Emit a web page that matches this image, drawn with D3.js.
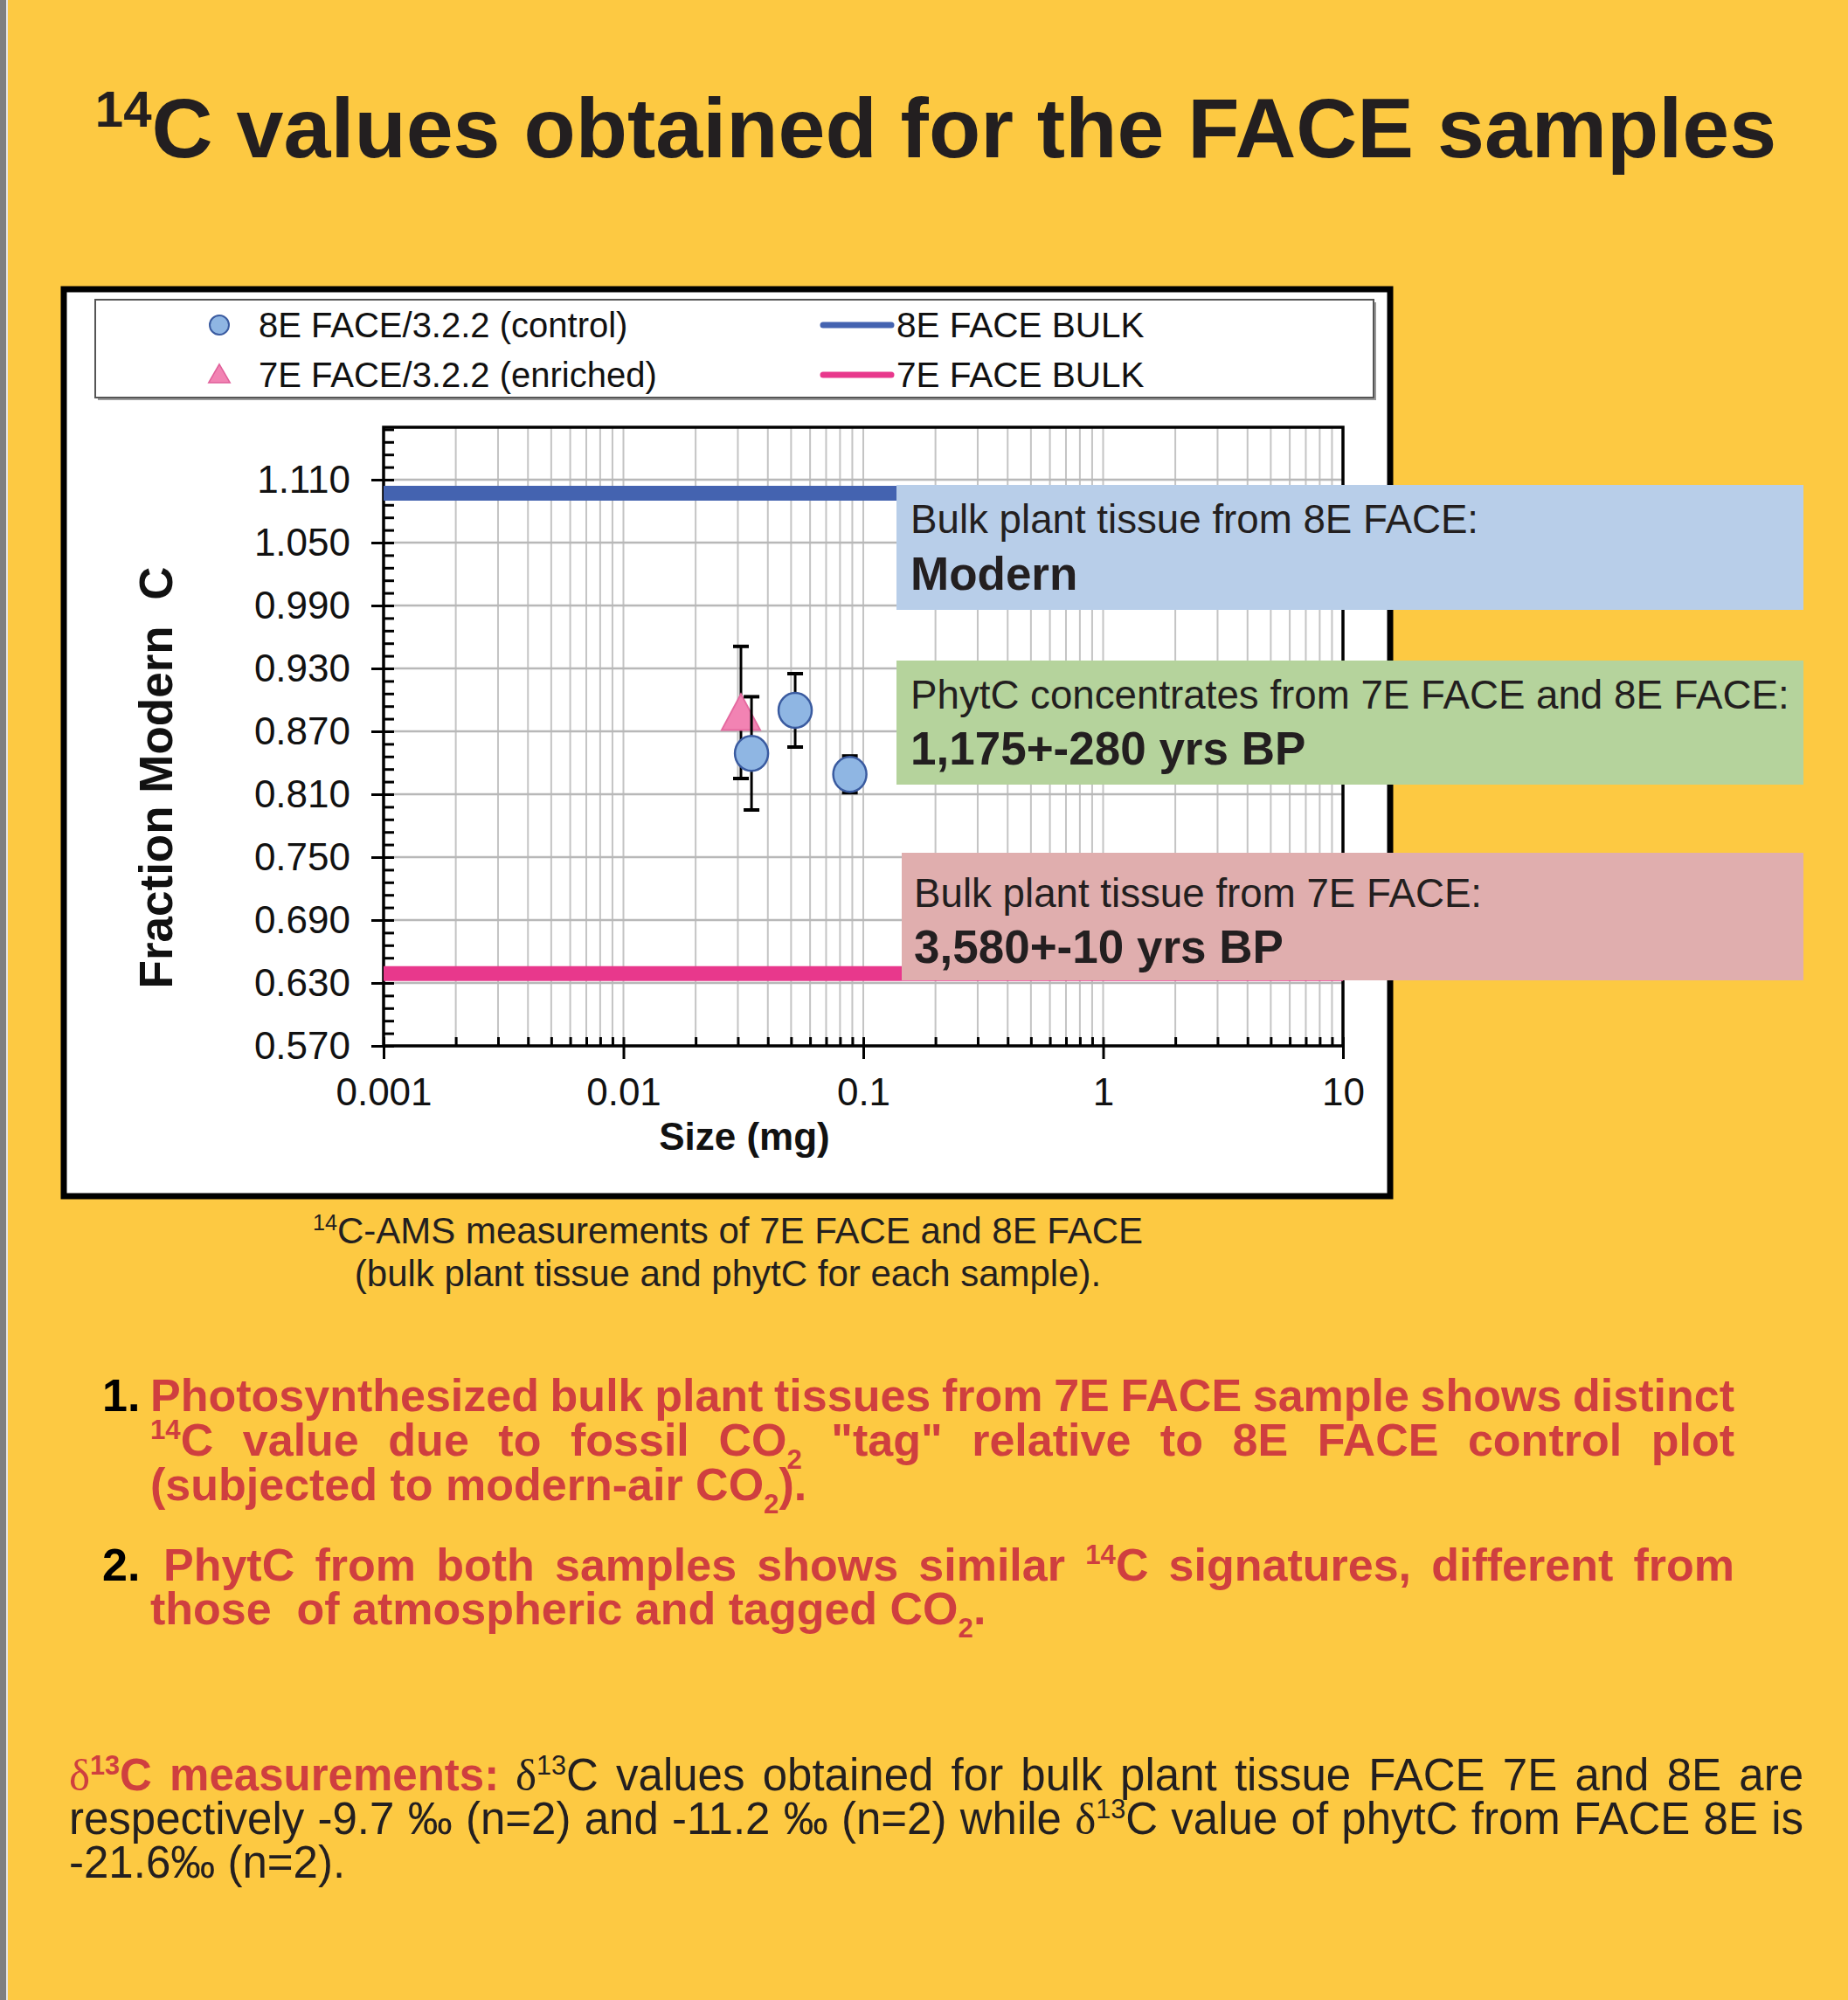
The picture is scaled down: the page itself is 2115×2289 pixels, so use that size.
<!DOCTYPE html>
<html>
<head>
<meta charset="utf-8">
<script src="https://cdn.jsdelivr.net/npm/d3@7"></script>
<style>
  body { margin: 0; background: #fdc942; }
  svg { display: block; }
  text { font-family: "Liberation Sans", Arial, Helvetica, sans-serif; white-space: pre; }
</style>
</head>
<body>
<div id="chart"></div>
<script>
// ---- chart data ----
var xTickValues = [0.001, 0.01, 0.1, 1, 10];
var xTickLabels = ["0.001", "0.01", "0.1", "1", "10"];
var yTickValues = [0.570, 0.630, 0.690, 0.750, 0.810, 0.870, 0.930, 0.990, 1.050, 1.110];
var yTickLabels = ["0.570", "0.630", "0.690", "0.750", "0.810", "0.870", "0.930", "0.990", "1.050", "1.110"];

var seriesNames = ["8E FACE/3.2.2 (control)", "7E FACE/3.2.2 (enriched)"];
// 8E control phytC points
var sizeControl = [0.0342, 0.052, 0.0879];
var fmcControl = [0.849, 0.890, 0.829];
var errControl = [0.054, 0.035, 0.0175];
// 7E enriched phytC point
var sizeEnriched = [0.0309];
var fmcEnriched = [0.888];
var errEnriched = [0.063];
// bulk tissue lines
var bulkNames = ["8E FACE BULK", "7E FACE BULK"];
var bulkValues = [1.097, 0.639];
var bulkColors = ["#4463b0", "#e8388c"];

// ---- page setup ----
var W = 2115, H = 2289;
var dark = "#231f20", red = "#cf3f3f";

var svg = d3.select("#chart").append("svg")
  .attr("width", W)
  .attr("height", H);

svg.append("rect").attr("width", W).attr("height", H).attr("fill", "#fdc942");
svg.append("rect").attr("x", 0).attr("width", 7).attr("height", H).attr("fill", "#7f7f7f");
svg.append("rect").attr("x", 7).attr("width", 2).attr("height", H).attr("fill", "#e6e6e6");

// helper that writes runs of text with sup/sub parts
function addRuns(sel, runs, fs) {
  var shift = 0;
  runs.forEach(function(r) {
    var target = r.k === "sup" ? -0.36 * fs : (r.k === "sub" ? 0.28 * fs : 0);
    var ts = sel.append("tspan").attr("dy", target - shift).text(r.t);
    shift = target;
    if (r.k) ts.attr("font-size", fs * 0.6);
    if (r.fill) ts.attr("fill", r.fill);
    if (r.weight) ts.attr("font-weight", r.weight);
    if (r.family) ts.attr("font-family", r.family);
  });
  return sel;
}

// spread (or tighten) the word gaps so a line fills the given width
function justify(sel, width) {
  var node = sel.node();
  var natural = node.getComputedTextLength();
  var spaces = (node.textContent.match(/ /g) || []).length;
  if (spaces > 0) sel.style("word-spacing", ((width - natural) / spaces) + "px");
}

// ---- title ----
var title = svg.append("text")
  .attr("x", 1071).attr("y", 180)
  .attr("text-anchor", "middle")
  .attr("font-size", 97).attr("font-weight", "bold").attr("fill", dark);
addRuns(title, [{t: "14", k: "sup"}, {t: "C values obtained for the FACE samples"}], 97);

// ---- chart frame ----
svg.append("rect")
  .attr("x", 73).attr("y", 331).attr("width", 1518).attr("height", 1038)
  .attr("fill", "#ffffff").attr("stroke", "#000").attr("stroke-width", 7);

// legend
svg.append("rect").attr("x", 112).attr("y", 346).attr("width", 1463).attr("height", 112).attr("fill", "#9a9a9a");
svg.append("rect").attr("x", 109).attr("y", 343).attr("width", 1463).attr("height", 112)
  .attr("fill", "#fff").attr("stroke", "#555").attr("stroke-width", 2);

var legendRowsY = [372, 429];
svg.append("circle").attr("cx", 251).attr("cy", legendRowsY[0]).attr("r", 11)
  .attr("fill", "#8fb6e3").attr("stroke", "#3a5ba0").attr("stroke-width", 2);
svg.append("path")
  .attr("d", d3.symbol().type(d3.symbolTriangle).size(260)())
  .attr("transform", "translate(251," + (legendRowsY[1] + 2) + ")")
  .attr("fill", "#f283b3").attr("stroke", "#e0609a").attr("stroke-width", 1.5);
seriesNames.forEach(function(n, i) {
  svg.append("text").attr("x", 296).attr("y", legendRowsY[i] + 14)
    .attr("font-size", 40).attr("fill", "#111").text(n);
});
bulkNames.forEach(function(n, i) {
  svg.append("line").attr("x1", 942).attr("x2", 1020)
    .attr("y1", legendRowsY[i]).attr("y2", legendRowsY[i])
    .attr("stroke", bulkColors[i]).attr("stroke-width", 7).attr("stroke-linecap", "round");
  svg.append("text").attr("x", 1026).attr("y", legendRowsY[i] + 14)
    .attr("font-size", 40.5).attr("fill", "#111").text(n);
});

// ---- plot ----
var x = d3.scaleLog().domain([0.001, 10]).range([439, 1537]);
var y = d3.scaleLinear().domain([0.57, 1.16]).range([1197, 489]);

var plot = svg.append("g");

// grid
var minorX = x.ticks();
plot.selectAll(".vgrid").data(minorX).enter().append("line")
  .attr("x1", d => x(d)).attr("x2", d => x(d))
  .attr("y1", y(1.16)).attr("y2", y(0.57))
  .attr("stroke", "#c4c4c4").attr("stroke-width", 2);
plot.selectAll(".hgrid").data(yTickValues).enter().append("line")
  .attr("x1", x(0.001)).attr("x2", x(10))
  .attr("y1", d => y(d)).attr("y2", d => y(d))
  .attr("stroke", "#b8b8b8").attr("stroke-width", 2.5);

// minor ticks (no labels)
var yMinor = d3.range(0, 50).map(function(i) { return 0.57 + i * 0.012; });
plot.append("g").attr("transform", "translate(439,0)")
  .call(d3.axisLeft(y).tickValues(yMinor).tickSize(-12).tickFormat(""))
  .call(g => g.select(".domain").remove())
  .call(g => g.selectAll("text").remove())
  .call(g => g.selectAll("line").attr("stroke", "#000").attr("stroke-width", 3));
plot.append("g").attr("transform", "translate(0,1197)")
  .call(d3.axisBottom(x).tickValues(minorX).tickSize(-10).tickFormat(""))
  .call(g => g.select(".domain").remove())
  .call(g => g.selectAll("text").remove())
  .call(g => g.selectAll("line").attr("stroke", "#000").attr("stroke-width", 3));

var yAxis = plot.append("g").attr("transform", "translate(439,0)")
  .call(d3.axisLeft(y).tickValues(yTickValues).tickSize(14).tickPadding(24)
    .tickFormat(function(d, i) { return yTickLabels[i]; }));
yAxis.select(".domain").remove();
yAxis.selectAll("line").attr("stroke", "#000").attr("stroke-width", 3);
yAxis.selectAll("text").attr("font-size", 44).attr("fill", "#111")
  .attr("font-family", "Liberation Sans, Arial, sans-serif");

var xAxis = plot.append("g").attr("transform", "translate(0,1197)")
  .call(d3.axisBottom(x).tickValues(xTickValues).tickSize(15).tickPadding(22)
    .tickFormat(function(d, i) { return xTickLabels[i]; }));
xAxis.select(".domain").remove();
xAxis.selectAll("line").attr("stroke", "#000").attr("stroke-width", 3);
xAxis.selectAll("text").attr("font-size", 44).attr("fill", "#111")
  .attr("font-family", "Liberation Sans, Arial, sans-serif");

// plot border
plot.append("rect")
  .attr("x", x(0.001)).attr("y", y(1.16))
  .attr("width", x(10) - x(0.001)).attr("height", y(0.57) - y(1.16))
  .attr("fill", "none").attr("stroke", "#000").attr("stroke-width", 3.5);

// bulk lines
bulkValues.forEach(function(v, i) {
  plot.append("line")
    .attr("x1", x(0.001)).attr("x2", x(10))
    .attr("y1", y(v)).attr("y2", y(v))
    .attr("stroke", bulkColors[i]).attr("stroke-width", 17);
});

function errorBars(sizes, vals, errs) {
  var g = plot.append("g").attr("stroke", "#000").attr("stroke-width", 3);
  sizes.forEach(function(s, i) {
    var cx = x(s);
    g.append("line").attr("x1", cx).attr("x2", cx)
      .attr("y1", y(vals[i] + errs[i])).attr("y2", y(vals[i] - errs[i]));
    [vals[i] + errs[i], vals[i] - errs[i]].forEach(function(e) {
      g.append("line").attr("x1", cx - 9).attr("x2", cx + 9)
        .attr("y1", y(e)).attr("y2", y(e)).attr("stroke-width", 4);
    });
  });
}

// enriched series
errorBars(sizeEnriched, fmcEnriched, errEnriched);
plot.selectAll(".tri").data(sizeEnriched).enter().append("path")
  .attr("d", function(d, i) {
    var cx = x(d), cy = y(fmcEnriched[i]);
    return "M" + cx + "," + (cy - 21) + "L" + (cx + 22) + "," + (cy + 20) + "L" + (cx - 22) + "," + (cy + 20) + "Z";
  })
  .attr("fill", "#f283b3").attr("stroke", "#e56aa0").attr("stroke-width", 2);

// control series
errorBars(sizeControl, fmcControl, errControl);
plot.selectAll(".dot").data(sizeControl).enter().append("ellipse")
  .attr("cx", d => x(d))
  .attr("cy", (d, i) => y(fmcControl[i]))
  .attr("rx", 19).attr("ry", 20)
  .attr("fill", "#8fb6e3").attr("stroke", "#3a5ba0").attr("stroke-width", 2.5);

// axis titles
svg.append("text")
  .attr("transform", "translate(197,890) rotate(-90)")
  .attr("text-anchor", "middle")
  .attr("font-size", 53).attr("font-weight", "bold").attr("fill", "#111")
  .text("Fraction Modern  C");
svg.append("text")
  .attr("x", 852).attr("y", 1316)
  .attr("text-anchor", "middle")
  .attr("font-size", 44).attr("font-weight", "bold").attr("fill", "#111")
  .text("Size (mg)");

// ---- annotation boxes ----
var boxes = [
  {x: 1026, y: 555, h: 143, fill: "#b8cee9", l1: "Bulk plant tissue from 8E FACE:", l2: "Modern", tx: 1042, b1: 610, b2: 675},
  {x: 1026, y: 756, h: 142, fill: "#b5d39c", l1: "PhytC concentrates from 7E FACE and 8E FACE:", l2: "1,175+-280 yrs BP", tx: 1042, b1: 811, b2: 875},
  {x: 1032, y: 976, h: 146, fill: "#e0aeae", l1: "Bulk plant tissue from 7E FACE:", l2: "3,580+-10 yrs BP", tx: 1046, b1: 1038, b2: 1102}
];
boxes.forEach(function(b) {
  svg.append("rect").attr("x", b.x).attr("y", b.y).attr("width", 2064 - b.x).attr("height", b.h).attr("fill", b.fill);
  svg.append("text").attr("x", b.tx).attr("y", b.b1).attr("font-size", 45.7).attr("fill", dark).text(b.l1);
  svg.append("text").attr("x", b.tx).attr("y", b.b2).attr("font-size", 53).attr("font-weight", "bold").attr("fill", dark).text(b.l2);
});

// ---- caption ----
var cap1 = svg.append("text").attr("x", 833).attr("y", 1423).attr("text-anchor", "middle")
  .attr("font-size", 42).attr("fill", dark);
addRuns(cap1, [{t: "14", k: "sup"}, {t: "C-AMS measurements of 7E FACE and 8E FACE"}], 42);
svg.append("text").attr("x", 833).attr("y", 1472).attr("text-anchor", "middle")
  .attr("font-size", 42).attr("fill", dark)
  .text("(bulk plant tissue and phytC for each sample).");

// ---- numbered points ----
var fsL = 52;
function listText(xp, yp) {
  return svg.append("text").attr("x", xp).attr("y", yp)
    .attr("font-size", fsL).attr("font-weight", "bold").attr("fill", red);
}
svg.append("text").attr("x", 117).attr("y", 1615).attr("font-size", fsL).attr("font-weight", "bold").attr("fill", "#000").text("1.");
justify(addRuns(listText(172, 1615), [{t: "Photosynthesized bulk plant tissues from 7E FACE sample shows distinct"}], fsL), 1813);
justify(addRuns(listText(172, 1666), [{t: "14", k: "sup"}, {t: "C value due to fossil CO"}, {t: "2", k: "sub"}, {t: " \"tag\" relative to 8E FACE control plot"}], fsL), 1813);
addRuns(listText(172, 1717), [{t: "(subjected to modern-air CO"}, {t: "2", k: "sub"}, {t: ")."}], fsL);

svg.append("text").attr("x", 117).attr("y", 1809).attr("font-size", fsL).attr("font-weight", "bold").attr("fill", "#000").text("2.");
justify(addRuns(listText(187, 1809), [{t: "PhytC from both samples shows similar "}, {t: "14", k: "sup"}, {t: "C signatures, different from"}], fsL), 1798);
addRuns(listText(172, 1859), [{t: "those  of atmospheric and tagged CO"}, {t: "2", k: "sub"}, {t: "."}], fsL);

// ---- delta 13C paragraph ----
var fsP = 51;
function paraText(yp) {
  return svg.append("text").attr("x", 79).attr("y", yp).attr("font-size", fsP).attr("fill", dark);
}
justify(addRuns(paraText(2049), [
  {t: "\u03b4", fill: red, family: "Liberation Serif, serif"},
  {t: "13", k: "sup", fill: red, weight: "bold"},
  {t: "C measurements:", fill: red, weight: "bold"},
  {t: " \u03b4", family: "Liberation Serif, serif"},
  {t: "13", k: "sup"},
  {t: "C values obtained for bulk plant tissue FACE 7E and 8E are"}
], fsP), 1985);
justify(addRuns(paraText(2099), [
  {t: "respectively -9.7 \u2030 (n=2) and -11.2 \u2030 (n=2) while "},
  {t: "\u03b4", family: "Liberation Serif, serif"},
  {t: "13", k: "sup"},
  {t: "C value of phytC from FACE 8E is"}
], fsP), 1985);
addRuns(paraText(2149), [{t: "-21.6\u2030 (n=2)."}], fsP);
</script>
</body>
</html>
